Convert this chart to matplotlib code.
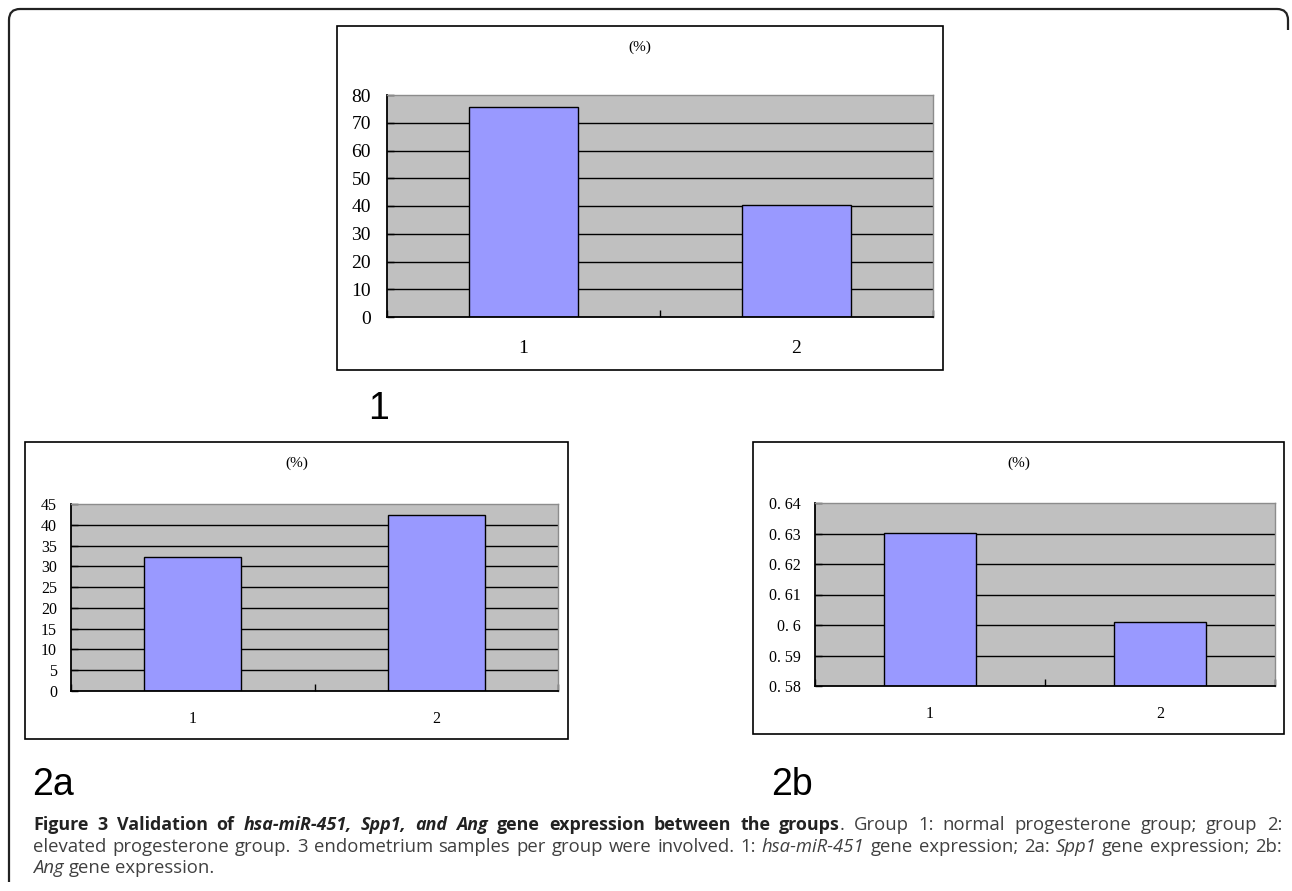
import numpy as np
import matplotlib.pyplot as plt
from matplotlib.patches import Rectangle, PathPatch
from matplotlib.path import Path

W, H = 1292, 891

groups = ['1', '2']

# 1: hsa-miR-451, 2a: Spp1, 2b: Ang
mir451 = [75.7, 40.4]
spp1 = [32.2, 42.3]
ang = [0.6302, 0.6011]

mir451_ticks = [0, 10, 20, 30, 40, 50, 60, 70, 80]
spp1_ticks = [0, 5, 10, 15, 20, 25, 30, 35, 40, 45]
ang_ticks = [0.58, 0.59, 0.60, 0.61, 0.62, 0.63, 0.64]
ang_labels = ['0. 58', '0. 59', '0. 6', '0. 61', '0. 62', '0. 63', '0. 64']

caption = [
    [("Figure 3 Validation of ", 'b'), ("hsa-miR-451, Spp1, and Ang", 'bi'),
     (" gene expression between the groups", 'b'),
     (". Group 1: normal progesterone group; group 2:", 'r')],
    [("elevated progesterone group. 3 endometrium samples per group were involved. 1: ", 'r'),
     ("hsa-miR-451", 'i'), (" gene expression; 2a: ", 'r'), ("Spp1", 'i'),
     (" gene expression; 2b:", 'r')],
    [("Ang", 'i'), (" gene expression.", 'r')],
]

serif = 'Liberation Serif'

fig = plt.figure(figsize=(W / 100, H / 100), dpi=100)


def fx(x):
    return x / W


def fy(y):
    return 1 - y / H


def frame(x0, y0, x1, y1):
    fig.add_artist(Rectangle((fx(x0), fy(y1)), (x1 - x0) / W, (y1 - y0) / H,
                             transform=fig.transFigure, fill=False,
                             lw=1.2, ec='black'))


def chart(outer, plot, values, ticks, labels, fs, ypad, xpad):
    frame(*outer)
    x0, y0, x1, y1 = plot
    ax = fig.add_axes([fx(x0), fy(y1), (x1 - x0) / W, (y1 - y0) / H])
    ax.set_facecolor('#c0c0c0')
    x = np.arange(len(values))
    for t in ticks[1:-1]:
        ax.axhline(t, color='black', lw=1.0, zorder=1)
    ax.bar(x, values, width=0.4, color='#9999ff', edgecolor='black',
           lw=1.0, zorder=2)
    ax.set_xlim(-0.5, len(values) - 0.5)
    ax.set_ylim(ticks[0], ticks[-1])
    ax.set_yticks(ticks, labels, family=serif, fontsize=fs)
    ax.set_xticks(x, groups, family=serif, fontsize=fs)
    ax.set_xticks(np.arange(len(values) + 1) - 0.5, minor=True)
    ax.tick_params(axis='y', direction='in', length=5, width=1, pad=ypad)
    ax.tick_params(axis='x', which='major', length=0, pad=xpad)
    ax.tick_params(axis='x', which='minor', direction='in', length=5, width=1)
    for s in ['left', 'bottom']:
        ax.spines[s].set_linewidth(1.3)
    for s in ['top', 'right']:
        ax.spines[s].set_color('#8c8c8c')
        ax.spines[s].set_linewidth(1.0)
    fig.text(fx((outer[0] + outer[2]) / 2), fy(outer[1] + 21), '(%)',
             family=serif, fontsize=11, ha='center', va='center')
    return ax


chart((337, 26, 943, 370), (387, 95, 933, 317), mir451, mir451_ticks,
      [str(t) for t in mir451_ticks], 14, 11.5, 16.5)
chart((25, 442, 568, 739), (71, 504, 558, 691), spp1, spp1_ticks,
      [str(t) for t in spp1_ticks], 11.5, 10, 14.5)
chart((753, 442, 1284, 734), (815, 503, 1275, 686), ang, ang_ticks,
      ang_labels, 11.5, 10, 14.5)

# panel labels
for s, x, y in [('1', 368, 419), ('2a', 32, 795), ('2b', 771, 795)]:
    fig.text(fx(x), fy(y), s, family='Liberation Sans', fontsize=27,
             ha='left', va='baseline')

# outer rounded frame (left and top edges)
r = 11
R = 1288
verts = [(9, 882), (9, 9 + r), (9, 9), (9 + r, 9), (R - r, 9), (R, 9), (R, 9 + r), (R, 30)]
codes = [Path.MOVETO, Path.LINETO, Path.CURVE3, Path.CURVE3, Path.LINETO,
         Path.CURVE3, Path.CURVE3, Path.LINETO]
fig.add_artist(PathPatch(Path([(fx(a), fy(b)) for a, b in verts], codes),
                         transform=fig.transFigure, fill=False, lw=1.6,
                         ec='#222222'))

# caption, justified like the journal layout
styles = {'b': dict(weight='bold', style='normal', color='#222222'),
          'bi': dict(weight='bold', style='italic', color='#222222'),
          'r': dict(weight='normal', style='normal', color='#404040'),
          'i': dict(weight='normal', style='italic', color='#404040')}
left, right = 33, 1282
baselines = [830, 851.5, 873]
renderer = fig.canvas.get_renderer()
base = 10.0


def width(t):
    return t.get_window_extent(renderer=renderer).width


def measure(s, key, size):
    t = fig.text(0, 0, s, family='Open Sans', fontsize=size, **styles[key])
    w = width(t)
    t.remove()
    return w


def space_w(key, size):
    return measure('n n', key, size) - measure('nn', key, size)


def tokens(runs):
    out = []
    sp = False
    for text, key in runs:
        for i, p in enumerate(text.split(' ')):
            if i > 0:
                sp = True
            if p:
                out.append((p, key, sp))
                sp = False
    return out


def natural(toks):
    tot = 0
    for p, key, sp in toks:
        tot += measure(p, key, base) + (space_w(key, base) if sp else 0)
    return tot


toks_all = [tokens(runs) for runs in caption]
reg_size = base * (right - left) / natural(toks_all[1]) * 0.985
bold_size = reg_size * 0.96
size_of = {'b': bold_size, 'bi': bold_size, 'r': reg_size, 'i': reg_size}

for li, toks in enumerate(toks_all):
    objs = []
    for p, key, sp in toks:
        t = fig.text(0, fy(baselines[li]), p, family='Open Sans',
                     fontsize=size_of[key], va='baseline', **styles[key])
        objs.append((t, width(t), space_w(key, size_of[key]) if sp else None))
    nsp = sum(1 for o in objs if o[2] is not None)
    total = sum(o[1] + (o[2] or 0) for o in objs)
    extra = 0
    if li < len(toks_all) - 1 and nsp:
        extra = (right - left - total) / nsp
    x = left
    for t, w, sw in objs:
        if sw is not None:
            x += sw + extra
        t.set_x(fx(x))
        x += w

fig.savefig('out.png', dpi=100)
